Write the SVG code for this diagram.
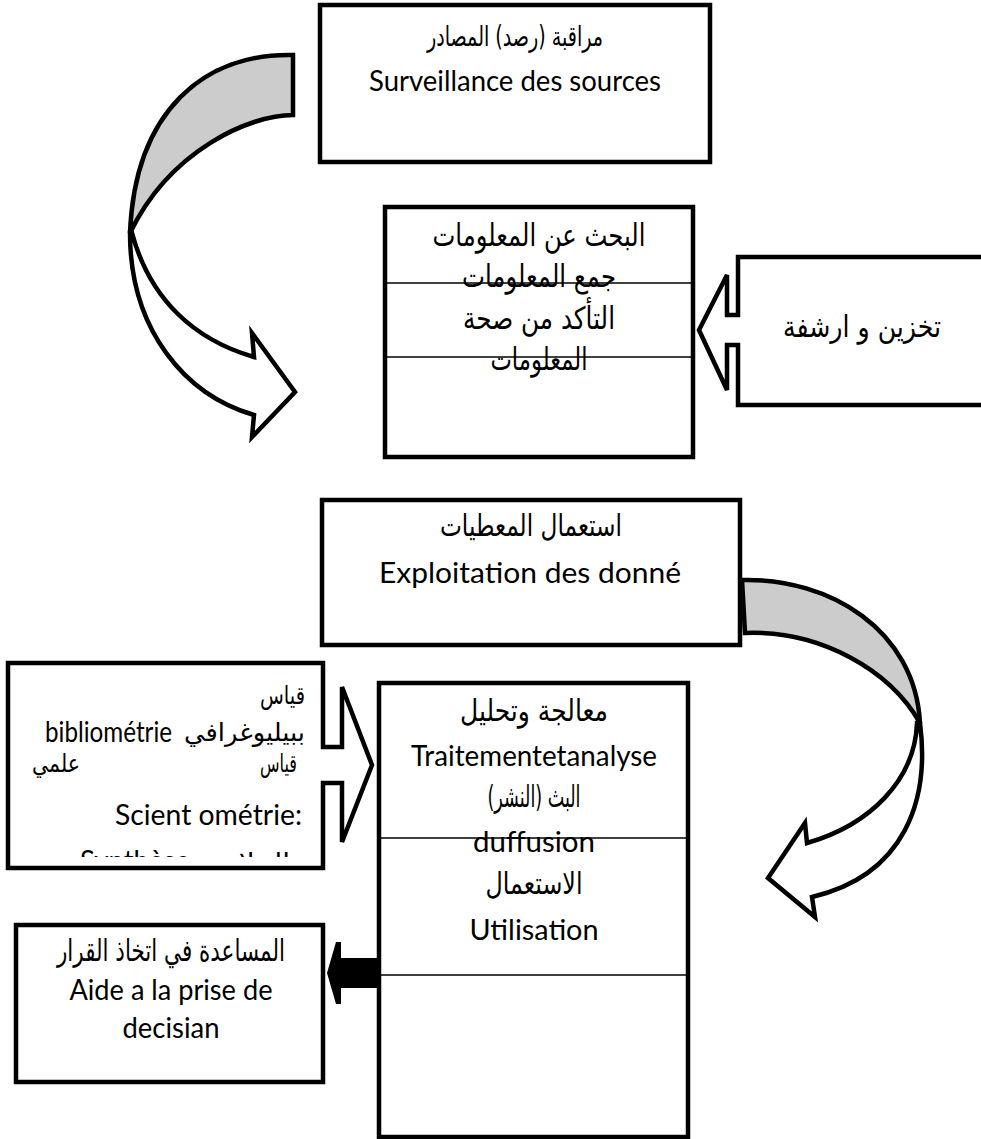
<svg xmlns="http://www.w3.org/2000/svg" width="981" height="1139" viewBox="0 0 981 1139">
<defs>
<style>
.box{fill:#fff;stroke:#000;stroke-width:4.5}
.ar{font-family:'DejaVu Sans','Noto Sans',sans-serif;font-size:30px;fill:#000}
.arl{font-family:'DejaVu Sans','Noto Sans',sans-serif;font-size:31px;fill:#000}
.ars{font-family:'DejaVu Sans','Noto Sans',sans-serif;font-size:28px;fill:#000}
.arx{font-family:'DejaVu Sans','Noto Sans',sans-serif;font-size:25px;fill:#000}
.la{font-family:Lato,'Liberation Sans',sans-serif;font-size:28px;fill:#000}
.sep{stroke:#000;stroke-width:1.5}
.back{fill:#cccccc;stroke:#000;stroke-width:4.5}
.front{fill:#fff;stroke:#000;stroke-width:4.5}
.solid{fill:#000;stroke:none}
</style>
<clipPath id="clipL"><rect x="0" y="600" width="330" height="257"/></clipPath>
</defs>
<rect width="981" height="1139" fill="#fff"/>

<g id="connectors">
<path class="back" d="M293,55 C205,53 135,110 130,233 C170,150 250,115 293,115 Z"/>
<path class="front" d="M130,233 C130,330 185,395 254,415 L252,437 L295,392 L252,333 L254,357 C195,340 150,300 132,233 Z"/>
<path class="back" d="M742,580 C830,578 915,630 920,723 C890,670 820,630 745,633 Z"/>
<path class="front" d="M920,723 C930,800 905,875 812,897 L815,917 L768,878 L805,823 L807,843 C870,825 915,780 917,723 Z"/>
<polygon class="solid" points="341,942 336,942 327,973 336,1004 341,1004 341,988 380,988 380,958 341,958"/>
</g>

<g id="node-surveillance">
<rect class="box" x="320" y="5" width="390" height="157"/>
<text class="ars" x="515" y="46" text-anchor="middle" direction="rtl" textLength="176" lengthAdjust="spacingAndGlyphs">مراقبة (رصد) المصادر</text>
<text class="la" x="515" y="91" text-anchor="middle" textLength="292" lengthAdjust="spacingAndGlyphs">Surveillance des sources</text>
</g>

<g id="node-recherche">
<rect class="box" x="385" y="207" width="308" height="250"/>
<text class="arl" x="539" y="246" text-anchor="middle" direction="rtl" textLength="213" lengthAdjust="spacingAndGlyphs">البحث عن المعلومات</text>
<text class="arl" x="539" y="287" text-anchor="middle" direction="rtl" textLength="154" lengthAdjust="spacingAndGlyphs">جمع المعلومات</text>
<text class="arl" x="539" y="329" text-anchor="middle" direction="rtl" textLength="152" lengthAdjust="spacingAndGlyphs">التأكد من صحة</text>
<text class="arl" x="539" y="370" text-anchor="middle" direction="rtl" textLength="97" lengthAdjust="spacingAndGlyphs">المعلومات</text>
<line class="sep" x1="386" y1="283" x2="692" y2="283"/>
<line class="sep" x1="386" y1="357" x2="692" y2="357"/>
</g>

<g id="node-stockage">
<path class="box" d="M990,257 L738,257 L738,315 L727,315 L727,275 L699,330 L727,390 L727,345 L738,345 L738,405 L990,405 Z"/>
<text class="ar" x="862" y="337" text-anchor="middle" direction="rtl" textLength="158" lengthAdjust="spacingAndGlyphs">تخزين و ارشفة</text>
</g>

<g id="node-exploitation">
<rect class="box" x="322" y="500" width="418" height="145"/>
<text class="ar" x="531" y="536" text-anchor="middle" direction="rtl" textLength="182" lengthAdjust="spacingAndGlyphs">استعمال المعطيات</text>
<text class="la" x="530" y="583" text-anchor="middle" textLength="302" lengthAdjust="spacingAndGlyphs">Exploitation des donné</text>
</g>

<g id="node-mesure">
<path class="box" d="M8,663 L323,663 L323,747 L342,747 L342,687 L372,765 L342,842 L342,783 L323,783 L323,868 L8,868 Z"/>
<text class="arx" x="305" y="704" direction="rtl" textLength="45" lengthAdjust="spacingAndGlyphs">قياس</text>
<text class="la" x="45" y="742" textLength="127" lengthAdjust="spacingAndGlyphs">bibliométrie</text>
<text class="arx" x="305" y="741" direction="rtl" textLength="121" lengthAdjust="spacingAndGlyphs">ببيليوغرافي</text>
<text class="arx" x="297" y="772" direction="rtl" textLength="37" lengthAdjust="spacingAndGlyphs">قياس</text>
<text class="arx" x="80" y="772" direction="rtl" textLength="48" lengthAdjust="spacingAndGlyphs">علمي</text>
<text class="la" x="115" y="825" textLength="187" lengthAdjust="spacingAndGlyphs">Scient ométrie:</text>
<g clip-path="url(#clipL)">
<text class="la" x="80" y="871" textLength="110" lengthAdjust="spacingAndGlyphs">Synthèse</text>
<text class="arx" x="290" y="871" direction="rtl" textLength="90" lengthAdjust="spacingAndGlyphs">الخلاصة</text>
</g>
</g>

<g id="node-traitement">
<rect class="box" x="379" y="683" width="309" height="454"/>
<text class="ar" x="534" y="721" text-anchor="middle" direction="rtl" textLength="148" lengthAdjust="spacingAndGlyphs">معالجة وتحليل</text>
<text class="la" x="534" y="766" text-anchor="middle" textLength="246" lengthAdjust="spacingAndGlyphs">Traitementetanalyse</text>
<text class="ar" x="534" y="807" text-anchor="middle" direction="rtl" textLength="93" lengthAdjust="spacingAndGlyphs">البث (النشر)</text>
<text class="la" x="534" y="852" text-anchor="middle" textLength="122" lengthAdjust="spacingAndGlyphs">duffusion</text>
<text class="ar" x="534" y="894" text-anchor="middle" direction="rtl" textLength="97" lengthAdjust="spacingAndGlyphs">الاستعمال</text>
<text class="la" x="534" y="940" text-anchor="middle" textLength="129" lengthAdjust="spacingAndGlyphs">Utilisation</text>
<line class="sep" x1="380" y1="838" x2="687" y2="838"/>
<line class="sep" x1="380" y1="975" x2="687" y2="975"/>
</g>

<g id="node-decision">
<rect class="box" x="16" y="925" width="307" height="157"/>
<text class="ar" x="171" y="961" text-anchor="middle" direction="rtl" textLength="228" lengthAdjust="spacingAndGlyphs">المساعدة في اتخاذ القرار</text>
<text class="la" x="171" y="1000" text-anchor="middle" textLength="203" lengthAdjust="spacingAndGlyphs">Aide a la prise de</text>
<text class="la" x="171" y="1038" text-anchor="middle" textLength="97" lengthAdjust="spacingAndGlyphs">decisian</text>
</g>
</svg>
